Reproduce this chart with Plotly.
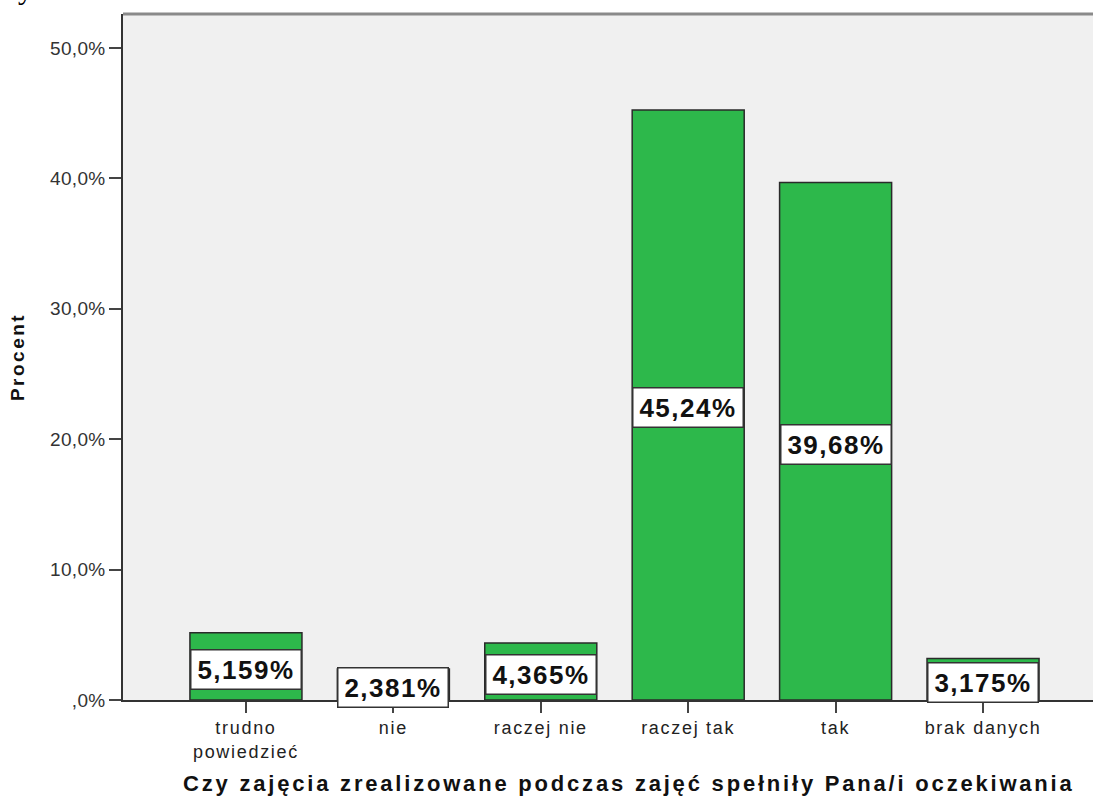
import plotly.graph_objects as go

categories = ["trudno<br>powiedzieć", "nie", "raczej nie", "raczej tak", "tak", "brak danych"]
values = [5.159, 2.381, 4.365, 45.24, 39.68, 3.175]
labels = ["5,159%", "2,381%", "4,365%", "45,24%", "39,68%", "3,175%"]
ytick_vals = [0, 10, 20, 30, 40, 50]
ytick_text = [",0%", "10,0%", "20,0%", "30,0%", "40,0%", "50,0%"]
x_title = "Czy zajęcia zrealizowane podczas zajęć spełniły Pana/i oczekiwania"
y_title = "Procent"


def spaced(s, px):
    return "<span style='letter-spacing:%spx'>%s</span>" % (px, s)


fig = go.Figure()
fig.add_trace(go.Bar(
    x=list(range(len(categories))), y=values,
    marker=dict(color="#2DB84B", line=dict(color="#2a2a2a", width=1.5)),
    width=0.76, hoverinfo="skip",
))

for i, (v, t) in enumerate(zip(values, labels)):
    fig.add_annotation(
        x=i, y=v / 2, xref="x", yref="y", text=spaced("<b>" + t + "</b>", 1.5), showarrow=False,
        font=dict(family="Liberation Sans", size=26, color="#111"),
        bgcolor="white", bordercolor="#333", borderwidth=1.5, borderpad=1,
        width=107, height=36, align="center", valign="middle",
        xanchor="center", yanchor="middle", yshift=-3,
    )

# x-axis title (placed as in the reference, slightly right of the plot centre)
fig.add_annotation(
    x=(629 - 123) / 970, y=(700 - 783) / 686, xref="paper", yref="paper",
    text=spaced("<b>" + x_title + "</b>", 2.8), showarrow=False,
    font=dict(family="Liberation Sans", size=22, color="#111"),
    xanchor="center", yanchor="middle",
)

# fragment of a letter cut at the top-left corner of the page
fig.add_annotation(
    x=(25 - 123) / 970, y=1 + 8 / 686, xref="paper", yref="paper", text="y", showarrow=False,
    font=dict(family="Liberation Serif", size=30, color="#000"),
    xanchor="center", yanchor="bottom", borderpad=0,
)

fig.add_shape(type="line", xref="paper", yref="paper", x0=0, x1=1, y0=1, y1=1,
              line=dict(color="#8a8a8a", width=3))

fig.update_layout(
    width=1093, height=798,
    margin=dict(l=123, r=0, t=14, b=98),
    paper_bgcolor="white", plot_bgcolor="#F0F0F0",
    showlegend=False,
    font=dict(family="Liberation Sans", size=18, color="#222"),
    xaxis=dict(
        range=[-0.834, 5.746], tickvals=list(range(len(categories))),
        ticktext=[spaced(c, 1.7) for c in categories],
        ticks="outside", ticklen=11, tickwidth=1.5, tickcolor="#444",
        showline=True, linecolor="#333", linewidth=1.5, showgrid=False, zeroline=False,
        tickfont=dict(family="Liberation Sans", size=18, color="#222"),
    ),
    yaxis=dict(
        range=[0, 52.6], tickvals=ytick_vals, ticktext=[spaced(t, 0.3) for t in ytick_text],
        ticks="outside", ticklen=12, tickwidth=1.5, tickcolor="#444",
        showline=True, linecolor="#333", linewidth=1.5, showgrid=False, zeroline=False,
        tickfont=dict(family="Liberation Sans", size=19, color="#333"),
        title=dict(text=spaced("<b>" + y_title + "</b>", 2.5),
                   font=dict(family="Liberation Sans", size=19, color="#111"), standoff=20),
    ),
)

fig.write_html("out.html", config={"displayModeBar": False},
               post_script="document.body.style.margin='0';")
